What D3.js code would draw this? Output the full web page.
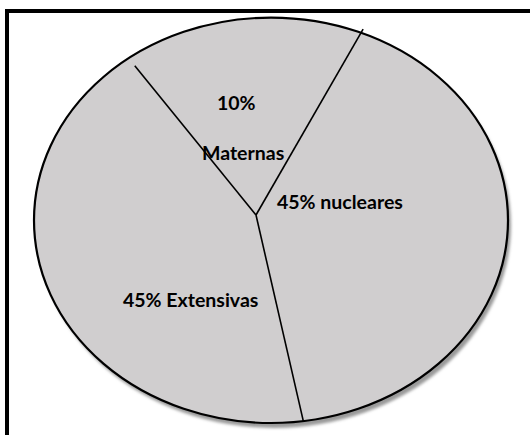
<!DOCTYPE html>
<html>
<head>
<meta charset="utf-8">
<script src="https://cdn.jsdelivr.net/npm/d3@7/dist/d3.min.js"></script>
<style>
  html, body { margin: 0; padding: 0; background: #ffffff; }
  svg { display: block; }
</style>
</head>
<body>
<div id="chart"></div>
<script>
// ---- data ----
const categories = ["Maternas", "nucleares", "Extensivas"];
const percentLabels = ["10%", "45%", "45%"];
const labelSeparators = ["\n\n", " ", " "];
// wedge sizes as they are drawn in the picture (share of the full ellipse, %)
const wedgeShares = [16.5, 41.6, 41.9];

// ---- layout ----
const W = 530, H = 435;
const cx = 271, cy = 220.3, rx = 237, ry = 202.7;
const hub = { x: 256, y: 215 };
const startDeg = -37;
const fontSize = 19.5;
const lineHeight = 25;
// label anchors (left x, first baseline y)
const labelAnchors = [[217, 110], [277, 209], [123, 307]];
// how far each divider reaches toward the rim (1 = on the rim)
const dividerReach = [0.955, 1.02, 1.0];

const svg = d3.select("#chart").append("svg")
  .attr("width", W).attr("height", H);

const defs = svg.append("defs");
const f = defs.append("filter").attr("id", "shadow")
  .attr("x", "-10%").attr("y", "-10%").attr("width", "120%").attr("height", "120%");
f.append("feGaussianBlur").attr("stdDeviation", 1.6);

// frame
svg.append("rect")
  .attr("x", 7).attr("y", 11).attr("width", 700).attr("height", 700)
  .attr("fill", "none").attr("stroke", "#000").attr("stroke-width", 4);

// shadow
svg.append("ellipse")
  .attr("cx", cx + 3).attr("cy", cy + 5).attr("rx", rx).attr("ry", ry)
  .attr("fill", "#9a9a9a").attr("filter", "url(#shadow)");

const pie = d3.pie().sort(null).value(d => d)
  .startAngle(startDeg * Math.PI / 180)
  .endAngle(startDeg * Math.PI / 180 + 2 * Math.PI);
const arcs = pie(wedgeShares);

const pt = (a, k = 1) => [cx + k * rx * Math.sin(a), cy - k * ry * Math.cos(a)];

function slicePath(d) {
  const p0 = pt(d.startAngle), p1 = pt(d.endAngle);
  const large = (d.endAngle - d.startAngle) > Math.PI ? 1 : 0;
  return `M${hub.x},${hub.y}L${p0[0]},${p0[1]}A${rx},${ry} 0 ${large} 1 ${p1[0]},${p1[1]}Z`;
}

const g = svg.append("g");
g.selectAll("path.slice").data(arcs).join("path")
  .attr("class", "slice")
  .attr("d", slicePath)
  .attr("fill", "#d0cecf")
  .attr("stroke", "#d0cecf")
  .attr("stroke-width", 0.5);

// outline
svg.append("ellipse")
  .attr("cx", cx).attr("cy", cy).attr("rx", rx).attr("ry", ry)
  .attr("fill", "none").attr("stroke", "#000").attr("stroke-width", 2.2);

// dividers
svg.selectAll("line.div").data(arcs).join("line")
  .attr("class", "div")
  .attr("x1", hub.x).attr("y1", hub.y)
  .attr("x2", (d, i) => pt(d.startAngle, dividerReach[i])[0])
  .attr("y2", (d, i) => pt(d.startAngle, dividerReach[i])[1])
  .attr("stroke", "#000").attr("stroke-width", 1.6);

// labels
const labels = svg.selectAll("text.lbl").data(arcs).join("text")
  .attr("class", "lbl")
  .attr("x", (d, i) => labelAnchors[i][0])
  .attr("y", (d, i) => labelAnchors[i][1])
  .attr("font-family", "Lato, 'Open Sans', sans-serif")
  .attr("font-weight", "bold")
  .attr("font-size", fontSize)
  .attr("fill", "#000");

labels.each(function (d, i) {
  const lines = (percentLabels[i] + labelSeparators[i] + categories[i]).split("\n");
  const t = d3.select(this);
  lines.forEach((ln, k) => {
    if (ln === "") return;
    t.append("tspan")
      .attr("x", i === 0 && k > 0 ? labelAnchors[i][0] - 15 : labelAnchors[i][0])
      .attr("y", labelAnchors[i][1] + k * lineHeight)
      .text(ln);
  });
});
</script>
</body>
</html>
